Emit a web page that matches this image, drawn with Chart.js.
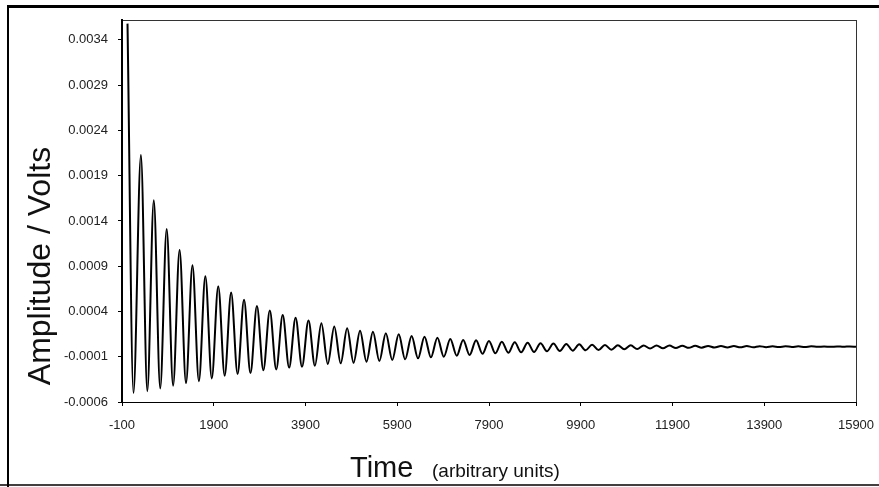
<!DOCTYPE html>
<html>
<head>
<meta charset="utf-8">
<script src="https://cdn.jsdelivr.net/npm/chart.js@4.4.1/dist/chart.umd.min.js"></script>
<style>
  html, body { margin: 0; padding: 0; background: #fff; }
  canvas { display: block; }
</style>
</head>
<body>
<canvas id="myChart" width="879" height="487"></canvas>
<script>
// tick labels
const xTicks = [-100, 1900, 3900, 5900, 7900, 9900, 11900, 13900, 15900];
const yTicks = [-0.0006, -0.0001, 0.0004, 0.0009, 0.0014, 0.0019, 0.0024, 0.0029, 0.0034];

// extrema of the ringing signal
const peakTime = [20, 312, 593, 874, 1155, 1436, 1717, 1998, 2279, 2560, 2841, 3122, 3403, 3684, 3965,
  4246, 4527, 4808, 5089, 5370, 5651, 5932, 6213, 6494, 6775, 7056, 7337, 7618, 7899, 8180, 8461,
  8742, 9023, 9304, 9585, 9866, 10147, 10428, 10709, 10990, 11271, 11552, 11833, 12114, 12395,
  12676, 12957, 13238, 13519, 13800, 14081, 14362, 14643, 14924, 15205, 15486, 15767];
const peakAmp = [0.00358, 0.00213, 0.00163, 0.00131, 0.00108, 0.00091, 0.00079, 0.00068, 0.00061,
  0.00053, 0.00046, 0.00041, 0.00036, 0.00033, 0.00030, 0.00027, 0.000235, 0.000215, 0.000188,
  0.000177, 0.000159, 0.000148, 0.000129, 0.000122, 0.000111, 0.000096, 0.000085, 0.000082,
  0.000075, 0.000066, 0.00006, 0.000055, 0.000049, 0.000047, 0.000041, 0.000037, 0.000033,
  0.00003, 0.000026, 0.000026, 0.000025, 0.000024, 0.000023, 0.000022, 0.000021, 0.00002,
  0.000019, 0.000018, 0.000018, 0.000017, 0.000016, 0.000016, 0.000015, 0.000015, 0.000014,
  0.000014, 0.000014];
const troughTime = [150, 452, 733, 1014, 1295, 1576, 1857, 2138, 2419, 2700, 2981, 3262, 3543, 3824,
  4105, 4386, 4667, 4948, 5229, 5510, 5791, 6072, 6353, 6634, 6915, 7196, 7477, 7758, 8039, 8320,
  8601, 8882, 9163, 9444, 9725, 10006, 10287, 10568, 10849, 11130, 11411, 11692, 11973, 12254,
  12535, 12816, 13097, 13378, 13659, 13940, 14221, 14502, 14783, 15064, 15345, 15626, 15900];
const troughAmp = [-0.0005, -0.00048, -0.00045, -0.00042, -0.00039, -0.00037, -0.00034, -0.00031,
  -0.00029, -0.00028, -0.00025, -0.00024, -0.00022, -0.00021, -0.0002, -0.00018, -0.000173,
  -0.000167, -0.000155, -0.000148, -0.000137, -0.000129, -0.000118, -0.000107, -0.0001,
  -0.000089, -0.000081, -0.000068, -0.000062, -0.000056, -0.000051, -0.000048, -0.00004,
  -0.000037, -0.000033, -0.000029, -0.000026, -0.000022, -0.000018, -0.000014, -0.00001,
  -0.000007, -0.000004, -0.000002, 0, 0.000002, 0.000003, 0.000004, 0.000005, 0.000006,
  0.000007, 0.000008, 0.000008, 0.000009, 0.000009, 0.00001, 0.00001];

const yTitle = "Amplitude / Volts";
const xTitle = "Time";
const xUnits = "(arbitrary units)";

let points = [];
for (let i = 0; i < peakTime.length; i++) {
  points.push({ x: peakTime[i], y: peakAmp[i] });
  points.push({ x: troughTime[i], y: troughAmp[i] });
}

const FONT = "'Liberation Sans', Arial, sans-serif";

// outer frame of the scanned figure + box round the plot
const framePlugin = {
  id: "frame",
  beforeDraw(chart) {
    const ctx = chart.ctx;
    ctx.save();
    ctx.fillStyle = "#fff";
    ctx.fillRect(0, 0, chart.width, chart.height);
    ctx.strokeStyle = "#000";
    ctx.lineWidth = 3;
    ctx.beginPath();
    ctx.moveTo(7, 6.5);
    ctx.lineTo(879, 6.5);
    ctx.stroke();
    ctx.lineWidth = 2;
    ctx.beginPath();
    ctx.moveTo(8, 6);
    ctx.lineTo(8, 487);
    ctx.stroke();
    ctx.lineWidth = 1.5;
    ctx.beginPath();
    ctx.moveTo(0, 485);
    ctx.lineTo(879, 485);
    ctx.stroke();
    const a = chart.chartArea;
    ctx.lineWidth = 1;
    ctx.strokeStyle = "#333";
    ctx.strokeRect(a.left + 0.5, a.top + 0.5, a.right - a.left, a.bottom - a.top);
    ctx.restore();
  },
  afterDraw(chart) {
    const ctx = chart.ctx;
    ctx.save();
    ctx.fillStyle = "#111";
    ctx.textBaseline = "alphabetic";
    // y title
    ctx.font = "32px " + FONT;
    ctx.textAlign = "center";
    ctx.translate(50, 266);
    ctx.rotate(-Math.PI / 2);
    ctx.fillText(yTitle, 0, 0);
    ctx.setTransform(1, 0, 0, 1, 0, 0);
    // x title
    ctx.textAlign = "left";
    ctx.font = "29px " + FONT;
    ctx.fillText(xTitle, 350, 477);
    ctx.font = "19px " + FONT;
    ctx.fillText(xUnits, 432, 477);
    ctx.restore();
  },
};

new Chart(document.getElementById("myChart"), {
  type: "line",
  data: {
    datasets: [
      {
        data: points,
        borderColor: "#000",
        borderWidth: 2,
        pointRadius: 0,
        cubicInterpolationMode: "monotone",
        fill: false,
      },
    ],
  },
  options: {
    responsive: false,
    animation: false,
    devicePixelRatio: 1,
    layout: { padding: { top: 20, right: 23, left: 0, bottom: 0 } },
    plugins: { legend: { display: false }, tooltip: { enabled: false } },
    scales: {
      x: {
        type: "linear",
        min: -100,
        max: 15900,
        afterBuildTicks: (s) => { s.ticks = xTicks.map((v) => ({ value: v })); },
        afterFit: (s) => { s.height = 85; s.paddingLeft = 0; s.paddingRight = 0; },
        grid: { drawOnChartArea: false, drawTicks: true, tickLength: 4, color: "#000" },
        border: { display: true, color: "#000", width: 1 },
        ticks: {
          padding: 12,
          maxRotation: 0,
          autoSkip: false,
          color: "#222",
          font: { family: FONT, size: 13 },
          callback: (v) => String(v),
        },
      },
      y: {
        min: -0.0006,
        max: 0.00362,
        afterBuildTicks: (s) => { s.ticks = yTicks.map((v) => ({ value: v })); },
        afterFit: (s) => { s.width = 122; s.paddingTop = 0; s.paddingBottom = 0; },
        grid: { drawOnChartArea: false, drawTicks: true, tickLength: 4, color: "#000" },
        border: { display: true, color: "#000", width: 2 },
        ticks: {
          padding: 10,
          autoSkip: false,
          color: "#222",
          font: { family: FONT, size: 13 },
          callback: (v) => v.toFixed(4),
        },
      },
    },
  },
  plugins: [framePlugin],
});
</script>
</body>
</html>
